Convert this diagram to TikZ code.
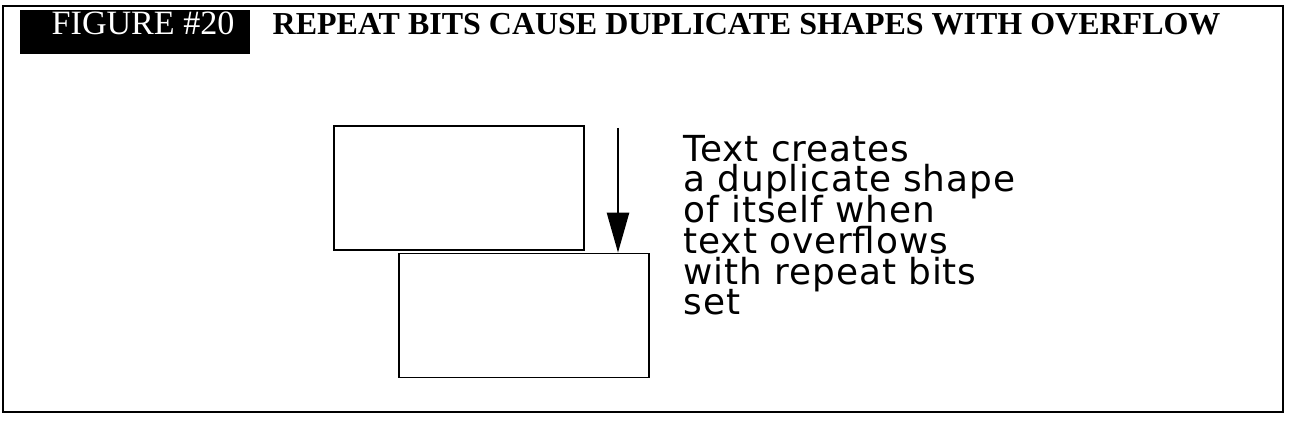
\documentclass[tikz,border=0pt]{standalone}
\usepackage{fontspec}
\setmainfont{Liberation Serif}
\newfontfamily\notefont[LetterSpace=2.5]{DejaVu Sans}
\usetikzlibrary{arrows.meta}
\newcommand\notespacing{\lineskiplimit=-20pt\relax\lineskip=0pt\relax}

\tikzset{
  shapebox/.style={draw, line width=0.45pt, minimum width=2.5cm, minimum height=1.24cm, inner sep=0pt},
  titlefont/.style={font=\fontsize{9.1}{11}\selectfont}
}

\begin{document}
\begin{tikzpicture}[>={Triangle[width=0.22cm,length=0.40cm]}]
  \useasboundingbox (0,0) rectangle (13,4.25);
  % frame and title bar
  \draw[line width=0.7pt] (0.03,0.13) rectangle (12.83,4.19);
  \fill[black] (0.20,3.71) rectangle (2.50,4.15);
  \node[font=\fontsize{9.7}{11}\selectfont, text=white, anchor=base west, inner sep=0pt] (fig) at (0.51,3.90) {FIGURE \#20};
  \node[titlefont, anchor=base west, inner sep=0pt] (title) at (2.72,3.90)
    {\bfseries REPEAT BITS CAUSE DUPLICATE SHAPES WITH OVERFLOW};
  % original shape and its duplicate
  \node[shapebox, line width=0.8pt] (orig) at (4.59,2.37) {};
  \node[shapebox] (dup) at (5.24,1.095) {};
  \coordinate (start) at (6.18,2.97);
  \draw[->, line width=0.7pt] (start) -- (start |- dup.north);
  % note (base = last line)
  \node[anchor=base west, align=left, inner sep=0pt,
        font=\notefont\fontsize{10.2}{8.75}\selectfont\notespacing] (note) at (6.83,1.10)
    {Text creates\\a duplicate shape\\of itself when\\text overflows\\with repeat bits\\set};
\end{tikzpicture}
\end{document}
